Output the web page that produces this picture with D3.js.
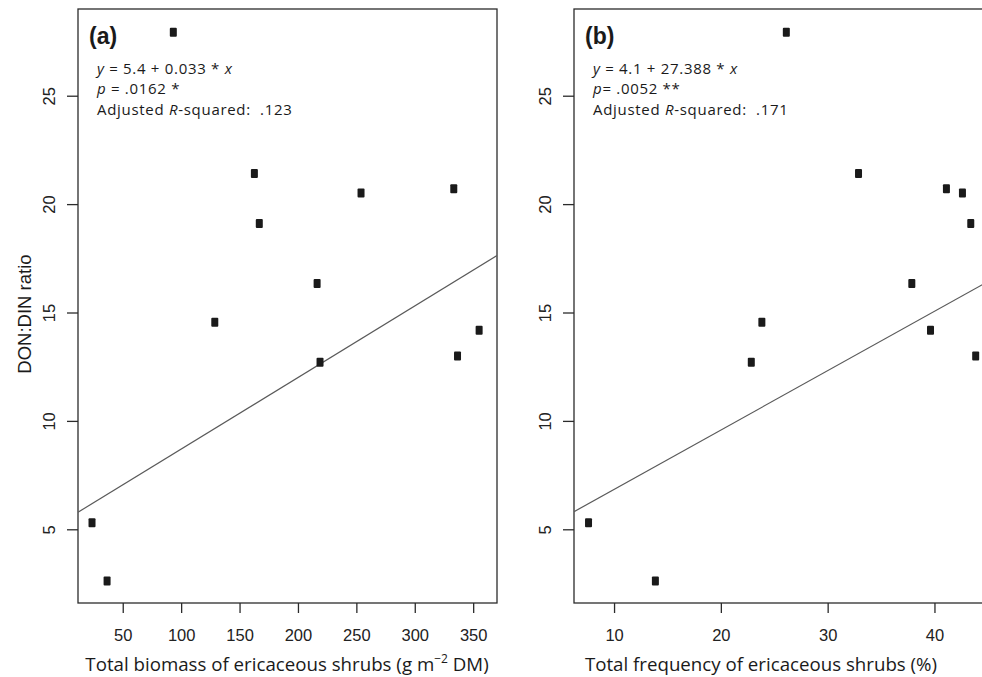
<!DOCTYPE html>
<html>
<head>
<meta charset="utf-8">
<script src="https://cdn.jsdelivr.net/npm/d3@7"></script>
<style>
  html, body { margin: 0; padding: 0; background: #fff; }
  svg { display: block; }
</style>
</head>
<body>
<svg id="chart" width="982" height="677"></svg>
<script>
// ---- data ----
const ratio     = [27.93, 21.41, 19.10, 20.51, 20.71, 16.34, 14.55, 12.71, 12.99, 14.18, 5.30, 2.62];
const biomass   = [93.3, 162.7, 166.9, 254.0, 333.4, 216.4, 128.8, 218.9, 336.6, 355.1, 23.7, 36.6];
const frequency = [26.13, 32.89, 43.40, 42.62, 41.12, 37.88, 23.84, 22.85, 43.86, 39.63, 7.61, 13.87];

const yTicks  = [5, 10, 15, 20, 25];
const xTicksA = [50, 100, 150, 200, 250, 300, 350];
const xTicksB = [10, 20, 30, 40];

const yLim  = [1.6, 29.0];
const xLimA = [11.7, 370.4];
const xLimB = [6.25, 45.35];

const fitA = { intercept: 5.4, slope: 0.033 };
const fitB = { intercept: 4.1, slope: 27.388 }; // x as fraction (percent / 100)

const panelLabels = ["(a)", "(b)"];
const eqLines = [
  [["y", true], [" = 5.4 + 0.033 * ", false], ["x", true]],
  [["y", true], [" = 4.1 + 27.388 * ", false], ["x", true]]
];
const pLines = [
  [["p", true], [" = .0162 *", false]],
  [["p", true], ["= .0052 **", false]]
];
const r2Lines = [
  [["Adjusted ", false], ["R", true], ["-squared:  .123", false]],
  [["Adjusted ", false], ["R", true], ["-squared:  .171", false]]
];

// ---- layout ----
const svg = d3.select("#chart");
const plotTop = 9, plotBottom = 603;
const panels = [
  { left: 78,  right: 497,   xs: biomass,   lim: xLimA, ticks: xTicksA, fit: fitA, fx: v => v,
    titleX: 287 },
  { left: 574, right: 991.6, xs: frequency, lim: xLimB, ticks: xTicksB, fit: fitB, fx: v => v / 100,
    titleX: 761 }
];

const y = d3.scaleLinear().domain(yLim).range([plotBottom, plotTop]);
const tickFont = "'Liberation Sans', Arial, Helvetica, sans-serif";
const textFont = "'Open Sans', 'Noto Sans', sans-serif";

panels.forEach((p, i) => {
  const x = d3.scaleLinear().domain(p.lim).range([p.left, p.right]);
  const g = svg.append("g");

  g.append("clipPath").attr("id", "clip" + i)
    .append("rect").attr("x", p.left).attr("y", plotTop)
    .attr("width", p.right - p.left).attr("height", plotBottom - plotTop);

  // box
  g.append("rect")
    .attr("x", p.left).attr("y", plotTop)
    .attr("width", p.right - p.left).attr("height", plotBottom - plotTop)
    .attr("fill", "none").attr("stroke", "#2b2b2b").attr("stroke-width", 1.3);

  // x axis
  const xAxis = d3.axisBottom(x).tickValues(p.ticks).tickSize(10).tickPadding(16);
  const xg = g.append("g").attr("transform", `translate(0,${plotBottom})`).call(xAxis);
  xg.select(".domain").remove();
  xg.selectAll(".tick line").attr("stroke", "#2b2b2b").attr("stroke-width", 1.3);
  xg.selectAll(".tick text").attr("font-family", tickFont).attr("font-size", 16.5)
    .attr("fill", "#222");

  // y axis (rotated labels)
  const yAxis = d3.axisLeft(y).tickValues(yTicks).tickSize(11).tickPadding(0);
  const yg = g.append("g").attr("transform", `translate(${p.left},0)`).call(yAxis);
  yg.select(".domain").remove();
  yg.selectAll(".tick line").attr("stroke", "#2b2b2b").attr("stroke-width", 1.3);
  yg.selectAll(".tick text")
    .attr("font-family", tickFont).attr("font-size", 16.5).attr("fill", "#222")
    .attr("x", null).attr("dy", null)
    .attr("text-anchor", "middle")
    .attr("transform", "translate(-23,0) rotate(-90)");

  // regression line
  const lineGen = d3.line().x(d => x(d)).y(d => y(p.fit.intercept + p.fit.slope * p.fx(d)));
  g.append("path")
    .attr("clip-path", `url(#clip${i})`)
    .attr("d", lineGen(p.lim))
    .attr("fill", "none").attr("stroke", "#5a5a5a").attr("stroke-width", 1.2);

  // points
  g.append("g").selectAll("rect").data(p.xs.map((v, k) => [v, ratio[k]]))
    .join("rect")
    .attr("x", d => x(d[0]) - 3.5).attr("y", d => y(d[1]) - 4.5)
    .attr("width", 7).attr("height", 9).attr("rx", 1)
    .attr("fill", "#1a1a1a");

  // panel label
  g.append("text").attr("x", p.left + 11).attr("y", 44)
    .attr("font-family", "'Liberation Sans', Arial, sans-serif").attr("font-weight", "bold")
    .attr("font-size", 23).attr("fill", "#1a1a1a").text(panelLabels[i]);

  // stats text
  const lines = [eqLines[i], pLines[i], r2Lines[i]];
  const bases = [73.5, 94, 114.5];
  lines.forEach((ln, li) => {
    const t = g.append("text").attr("x", p.left + 19).attr("y", bases[li])
      .attr("font-family", textFont).attr("font-size", 15).attr("fill", "#1a1a1a")
      .attr("letter-spacing", 0.7)
      .style("white-space", "pre");
    ln.forEach(([s, it]) => {
      t.append("tspan").attr("font-style", it ? "italic" : "normal").text(s);
    });
  });

  // x title
  const tt = g.append("text").attr("x", p.titleX).attr("y", 671)
    .attr("text-anchor", "middle").attr("font-family", textFont)
    .attr("font-size", 18.7).attr("fill", "#1a1a1a");
  if (i === 0) {
    tt.append("tspan").text("Total biomass of ericaceous shrubs (g m");
    tt.append("tspan").attr("font-size", 12).attr("dy", -8).text("\u22122");
    tt.append("tspan").attr("dy", 8).text(" DM)");
  } else {
    tt.text("Total frequency of ericaceous shrubs (%)");
  }
});

// y title
svg.append("text")
  .attr("transform", "translate(31,314) rotate(-90)")
  .attr("text-anchor", "middle")
  .attr("font-family", tickFont).attr("font-size", 18.5).attr("fill", "#1a1a1a")
  .text("DON:DIN ratio");
</script>
</body>
</html>
